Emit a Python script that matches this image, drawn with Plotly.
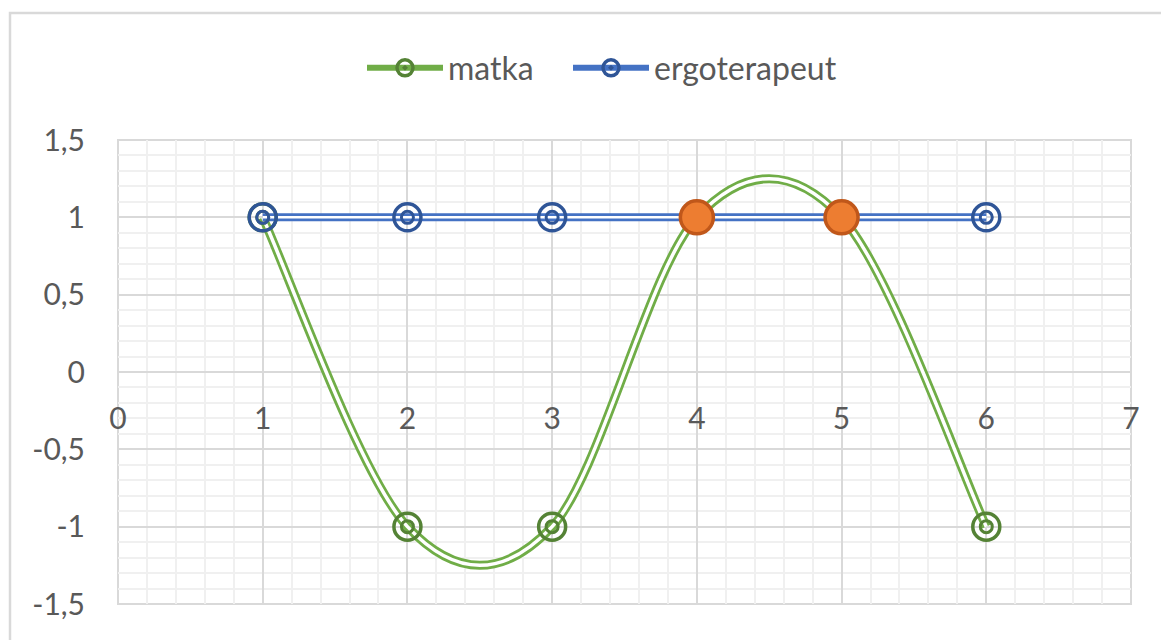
import plotly.graph_objects as go

# ---- data ----
x_vals = [1, 2, 3, 4, 5, 6]
matka = [1, -1, -1, 1, 1, -1]
ergoterapeut = [1, 1, 1, 1, 1, 1]
highlight_x = [4, 5]
highlight_y = [1, 1]
x_ticks = [0, 1, 2, 3, 4, 5, 6, 7]
x_ticktext = ["0", "1", "2", "3", "4", "5", "6", "7"]
y_ticks = [-1.5, -1, -0.5, 0, 0.5, 1, 1.5]
y_ticktext = ["-1,5", "-1", "-0,5", "0", "0,5", "1", "1,5"]

GREEN = "#70ad47"
GREEN_D = "#548235"
BLUE = "#4472c4"
BLUE_D = "#2f5597"
ORANGE = "#ed7d31"
ORANGE_D = "#c0571a"
TXT = "#595959"
FONT = "Lato"
FS = 30

# page offset: body margin of 8px
OFF = 8
W, H = 1169 - OFF, 640 - OFF
L, R, T, B = 118 - OFF, 38, 140 - OFF, 36
PW, PH = W - L - R, H - T - B


def smooth_path(xs, ys):
    """Excel-like smoothed line: cubic Bezier segments through the data points,
    control points from neighbouring points (Catmull-Rom, 1/6 tangent)."""
    n = len(xs)
    parts = [f"M {xs[0]},{ys[0]}"]
    for i in range(n - 1):
        xp, yp = (xs[i - 1], ys[i - 1]) if i > 0 else (xs[i], ys[i])
        xn2, yn2 = (xs[i + 2], ys[i + 2]) if i + 2 < n else (xs[i + 1], ys[i + 1])
        c1x = xs[i] + (xs[i + 1] - xp) / 6
        c1y = ys[i] + (ys[i + 1] - yp) / 6
        c2x = xs[i + 1] - (xn2 - xs[i]) / 6
        c2y = ys[i + 1] - (yn2 - ys[i]) / 6
        parts.append(f"C {c1x},{c1y} {c2x},{c2y} {xs[i + 1]},{ys[i + 1]}")
    return " ".join(parts)


fig = go.Figure()

# legend entries
fig.add_trace(go.Scatter(
    x=[None], y=[None], mode="lines+markers", name="matka", legendgroup="m", legend="legend",
    line=dict(color=GREEN, width=6),
    marker=dict(symbol="circle-open-dot", size=18, color=GREEN_D, line=dict(width=3.5, color=GREEN_D))))
fig.add_trace(go.Scatter(
    x=[None], y=[None], mode="lines+markers", name="ergoterapeut", legendgroup="e", legend="legend2",
    line=dict(color=BLUE, width=6),
    marker=dict(symbol="circle-open-dot", size=18, color=BLUE_D, line=dict(width=3.5, color=BLUE_D))))

# green smoothed double line (drawn as Bezier path on the data axes)
mpath = smooth_path(x_vals, matka)
fig.add_shape(type="path", xref="x", yref="y", path=mpath, layer="between",
              line=dict(color=GREEN, width=9), fillcolor="rgba(0,0,0,0)")
fig.add_shape(type="path", xref="x", yref="y", path=mpath, layer="between",
              line=dict(color="white", width=3.5), fillcolor="rgba(0,0,0,0)")

# blue double line
fig.add_trace(go.Scatter(
    x=x_vals, y=ergoterapeut, mode="lines", showlegend=False, legendgroup="e",
    line=dict(color=BLUE, width=8), hoverinfo="skip"))
fig.add_trace(go.Scatter(
    x=x_vals, y=ergoterapeut, mode="lines", showlegend=False, legendgroup="e",
    line=dict(color="white", width=2.5), hoverinfo="skip"))

# target markers
for ys, col, grp in [(matka, GREEN_D, "m"), (ergoterapeut, BLUE_D, "e")]:
    fig.add_trace(go.Scatter(
        x=x_vals, y=ys, mode="markers", showlegend=False, legendgroup=grp,
        marker=dict(symbol="circle-open", size=27, color=col, line=dict(width=3.5, color=col)),
        hoverinfo="skip"))
    fig.add_trace(go.Scatter(
        x=x_vals, y=ys, mode="markers", showlegend=False, legendgroup=grp,
        marker=dict(symbol="circle-open", size=12, color=col, line=dict(width=3, color=col)),
        hoverinfo="skip"))

# highlighted points
fig.add_trace(go.Scatter(
    x=highlight_x, y=highlight_y, mode="markers", showlegend=False,
    marker=dict(symbol="circle", size=33, color=ORANGE, line=dict(width=3.5, color=ORANGE_D)),
    hoverinfo="skip"))

# chart frame
fig.add_shape(type="rect", xref="paper", yref="paper",
              x0=(10 - OFF - L) / PW, x1=(W + 20 - L) / PW,
              y0=-(B + 20) / PH, y1=1 + (T - (13 - OFF)) / PH,
              line=dict(color="#d9d9d9", width=2.5), fillcolor="rgba(0,0,0,0)", layer="below")
fig.add_shape(type="rect", xref="paper", yref="paper", x0=0, x1=1, y0=0, y1=1,
              line=dict(color="#d9d9d9", width=2), fillcolor="rgba(0,0,0,0)", layer="below")

leg_common = dict(orientation="h", xanchor="left",
                  y=1 + (T - (68 - OFF)) / PH, yanchor="middle",
                  font=dict(family=FONT, size=32, color=TXT), itemwidth=76,
                  bgcolor="rgba(0,0,0,0)")

fig.update_layout(
    width=W, height=H,
    margin=dict(l=L, r=R, t=T, b=B, pad=0),
    paper_bgcolor="white", plot_bgcolor="white",
    font=dict(family=FONT, size=FS, color=TXT),
    showlegend=True,
    legend=dict(x=(367 - OFF - L - 5) / PW, **leg_common),
    legend2=dict(x=(573 - OFF - L - 5) / PW, **leg_common),
    xaxis=dict(range=[0, 7], tickvals=x_ticks, ticktext=x_ticktext,
               showgrid=True, gridcolor="#d9d9d9", gridwidth=2,
               minor=dict(dtick=0.2, showgrid=True, gridcolor="#f0f0f0", gridwidth=2),
               zeroline=False, showline=False, ticks="",
               anchor="free", position=0.5, ticklabelstandoff=26,
               tickfont=dict(family=FONT, size=FS, color=TXT)),
    yaxis=dict(range=[-1.5, 1.5], tickvals=y_ticks, ticktext=y_ticktext,
               showgrid=True, gridcolor="#d9d9d9", gridwidth=2,
               minor=dict(dtick=0.1, showgrid=True, gridcolor="#f0f0f0", gridwidth=2),
               zeroline=False, showline=False, ticks="", ticklabelstandoff=32,
               tickfont=dict(family=FONT, size=FS, color=TXT)),
)

fig.write_html("out.html")
